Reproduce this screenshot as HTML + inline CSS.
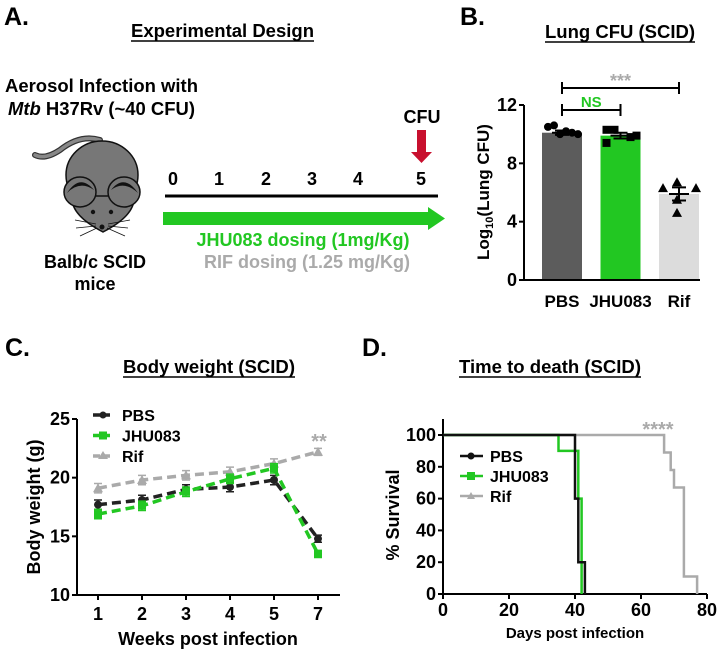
<!DOCTYPE html>
<html><head><meta charset="utf-8"><style>
body{margin:0;background:#fff}
svg{display:block;font-family:"Liberation Sans",Arial,sans-serif;font-weight:bold}
</style></head><body>
<svg id="fig" width="720" height="650" viewBox="0 0 720 650" xmlns="http://www.w3.org/2000/svg">
<g>
<text x="4" y="25" font-size="25">A.</text>
<text x="131" y="37" font-size="18" textLength="183" lengthAdjust="spacingAndGlyphs">Experimental Design</text>
<line x1="131" y1="41" x2="314" y2="41" stroke="#000" stroke-width="1.5"/>
<text x="5" y="92" font-size="18" textLength="193" lengthAdjust="spacingAndGlyphs">Aerosol Infection with</text>
<text x="8" y="115" font-size="18" textLength="187" lengthAdjust="spacingAndGlyphs"><tspan font-style="italic">Mtb</tspan> H37Rv (~40 CFU)</text>
<g>
<path d="M35 155 Q45 160 60 150 Q80 134 100 140" stroke="#333" stroke-width="6" fill="none" stroke-linecap="round"/>
<path d="M35 155 Q45 160 60 150 Q80 134 100 140" stroke="#888" stroke-width="3.5" fill="none" stroke-linecap="round"/>
<ellipse cx="102" cy="175" rx="36" ry="34" fill="#777" stroke="#111" stroke-width="1.5"/>
<path d="M72 196 Q70 215 103 232 Q136 215 134 196 Z" fill="#777" stroke="#111" stroke-width="1.5"/>
<ellipse cx="80" cy="192" rx="16" ry="15" fill="#777" stroke="#111" stroke-width="1.5"/>
<path d="M67 193 Q80 173 94 190 Q80 180 67 193Z" fill="#111"/>
<ellipse cx="124" cy="192" rx="16" ry="15" fill="#777" stroke="#111" stroke-width="1.5"/>
<path d="M111 190 Q124 173 138 193 Q124 180 111 190Z" fill="#111"/>
<circle cx="93" cy="212" r="2.2" fill="#111"/><circle cx="111" cy="212" r="2.2" fill="#111"/>
<circle cx="102" cy="227" r="2.5" fill="#111"/>
<path d="M96 224 L75 220 M96 226 L76 228 M97 228 L80 236 M108 224 L130 220 M108 226 L128 228 M107 228 L125 236" stroke="#111" stroke-width="0.8"/>
</g>
<text x="95" y="268" font-size="18" text-anchor="middle">Balb/c SCID</text>
<text x="95" y="290" font-size="18" text-anchor="middle">mice</text>
<g font-size="18" text-anchor="middle">
<text x="173" y="185">0</text><text x="219" y="185">1</text><text x="266" y="185">2</text><text x="312" y="185">3</text><text x="358" y="185">4</text><text x="421" y="185">5</text>
</g>
<line x1="165" y1="196" x2="438" y2="196" stroke="#000" stroke-width="3"/>
<path d="M163 212 L428 212 L428 207 L445 218.5 L428 230 L428 225 L163 225 Z" fill="#22c722"/>
<text x="303" y="246" font-size="18" fill="#22c722" text-anchor="middle">JHU083 dosing (1mg/Kg)</text>
<text x="307" y="268" font-size="18" fill="#aaa" text-anchor="middle">RIF dosing (1.25 mg/Kg)</text>
<text x="422" y="123" font-size="18" text-anchor="middle">CFU</text>
<path d="M417 130 L426 130 L426 152 L432 152 L421.5 163 L411 152 L417 152 Z" fill="#c8102e"/>
</g>
<g id="pb"></g><g id="pc"></g><g id="pd"></g>
</svg>
<script>
const NS="http://www.w3.org/2000/svg";
function mk(p,tag,a,txt){const e=document.createElementNS(NS,tag);for(const k in a)e.setAttribute(k,a[k]);if(txt!==undefined)e.textContent=txt;p.appendChild(e);return e;}

// ---- Panel B data ----
const bCats=["PBS","JHU083","Rif"];
const bMeans=[10.1,9.9,5.9];
const bSem=[0.15,0.2,0.45];
const bPtsPBS=[10.5,10.6,10.0,10.2,10.1,10.0];
const bPtsJHU=[10.3,10.3,9.4,9.8,9.9];
const bPtsRif=[6.3,6.7,5.5,4.6,6.3];
const bTicks=[0,4,8,12];

// ---- Panel C data ----
const cWeeks=["1","2","3","4","5","7"];
const cPBS=[17.7,18.1,19.0,19.2,19.8,14.8];
const cJHU=[16.9,17.6,18.8,19.9,20.8,13.5];
const cRif=[19.1,19.8,20.2,20.5,21.2,22.2];
const cErr=[0.4,0.4,0.4,0.4,0.4,0.3];
const cTicks=[10,15,20,25];

// ---- Panel D data ----
const dPBSx=[0,40,41,43];
const dPBSy=[100,60,20,0];
const dJHUx=[0,35,41,42,42];
const dJHUy=[100,90,60,20,0];
const dRifx=[0,67,69,70,73,77];
const dRify=[100,89,78,67,11,0];
const dXTicks=[0,20,40,60,80];
const dYTicks=[0,20,40,60,80,100];

function title(g,x,y,w,txt,name){
 const t=mk(g,'text',{x:x,y:y,'font-size':18,textLength:w,lengthAdjust:'spacingAndGlyphs'},txt);
 
 
 mk(g,'line',{x1:x,x2:x+w,y1:y+4,y2:y+4,stroke:'#000','stroke-width':1.5});
}

// ===== Panel B =====
(function(){
const g=document.getElementById('pb');


const y=v=>280-v*(175/12);
const xc=i=>562+i*58.5;
mk(g,'text',{x:460,y:25,'font-size':25},'B.');
title(g,545,38,150,'Lung CFU (SCID)','lung-cfu-title');
const cols=["#5c5c5c","#22c722","#dcdcdc"];
const pts=[bPtsPBS,bPtsJHU,bPtsRif];
const jit=[[-14,-8,-2,4,10,16],[-14,-6,-14,10,16],[-16,-2,-2,-2,17]];
bCats.forEach((c,i)=>{
 const r=mk(g,'rect',{x:xc(i)-20,y:y(bMeans[i]),width:40,height:280-y(bMeans[i]),fill:cols[i]});
 
 
 const lt=mk(g,'text',{x:xc(i),y:307,'font-size':17,'text-anchor':'middle'},c);
 
 
 pts[i].forEach((v,j)=>{
  const px=xc(i)+(jit[i][j]||0);
  let m;
  if(i==0)m=mk(g,'circle',{cx:px,cy:y(v),r:4,fill:'#000'});
  else if(i==1)m=mk(g,'rect',{x:px-4,y:y(v)-4,width:8,height:8,fill:'#000'});
  else m=mk(g,'path',{d:`M${px} ${y(v)-5}L${px+5} ${y(v)+4}L${px-5} ${y(v)+4}Z`,fill:'#000'});
  
  
 });
 const e=mk(g,'path',{d:`M${xc(i)-10} ${y(bMeans[i])}H${xc(i)+10}M${xc(i)} ${y(bMeans[i]-bSem[i])}V${y(bMeans[i]+bSem[i])}M${xc(i)-7} ${y(bMeans[i]-bSem[i])}H${xc(i)+7}M${xc(i)-7} ${y(bMeans[i]+bSem[i])}H${xc(i)+7}`,stroke:'#000','stroke-width':2,fill:'none'});
 
 
});
mk(g,'path',{d:'M524 105V280H700',stroke:'#000','stroke-width':2,fill:'none'});
bTicks.forEach(v=>{
 mk(g,'line',{x1:519,x2:524,y1:y(v),y2:y(v),stroke:'#000','stroke-width':2});
 const tt=mk(g,'text',{x:517,y:y(v)+6,'font-size':18,'text-anchor':'end'},v);
 
 
});
const yt=mk(g,'text',{transform:'translate(489,192) rotate(-90)','font-size':17,'text-anchor':'middle'});


yt.innerHTML='Log<tspan font-size="11" dy="4">10</tspan><tspan dy="-4">(Lung CFU)</tspan>';
mk(g,'path',{d:`M${xc(0)} 82V94M${xc(0)} 88H${xc(2)}M${xc(2)} 82V94`,stroke:'#000','stroke-width':2,fill:'none'});
mk(g,'text',{x:(xc(0)+xc(2))/2,y:87,'font-size':18,fill:'#aaa','text-anchor':'middle'},'***');
mk(g,'path',{d:`M${xc(0)} 104V116M${xc(0)} 110H${xc(1)}M${xc(1)} 104V116`,stroke:'#000','stroke-width':2,fill:'none'});
mk(g,'text',{x:(xc(0)+xc(1))/2,y:107,'font-size':15,fill:'#22c722','text-anchor':'middle'},'NS');
})();

// ===== Panel C =====
(function(){
const g=document.getElementById('pc');


const y=v=>595-(v-10)*(176/15);
const x=i=>98+i*44;
mk(g,'text',{x:5,y:356,'font-size':25},'C.');
title(g,123,373,172,'Body weight (SCID)','body-weight-title');
mk(g,'path',{d:'M77 419V595H340',stroke:'#000','stroke-width':2,fill:'none'});
cTicks.forEach(v=>{
 mk(g,'line',{x1:72,x2:77,y1:y(v),y2:y(v),stroke:'#000','stroke-width':2});
 const tt=mk(g,'text',{x:70,y:y(v)+6,'font-size':18,'text-anchor':'end'},v);
 
 
});
cWeeks.forEach((w,i)=>{
 mk(g,'line',{x1:x(i),x2:x(i),y1:595,y2:600,stroke:'#000','stroke-width':2});
 const tt=mk(g,'text',{x:x(i),y:620,'font-size':18,'text-anchor':'middle'},w);
 
 
});
mk(g,'text',{x:208,y:645,'font-size':18,'text-anchor':'middle'},'Weeks post infection');
mk(g,'text',{transform:'translate(40,507) rotate(-90)','font-size':18,'text-anchor':'middle'},'Body weight (g)');
const series=[[cRif,'#aaa','tri','rif'],[cPBS,'#222','circ','pbs'],[cJHU,'#22c722','sq','jhu083']];
series.forEach(([d,c,m,n])=>{
 const l=mk(g,'polyline',{points:d.map((v,i)=>x(i)+','+y(v)).join(' '),stroke:c,'stroke-width':3.5,'stroke-dasharray':'9 5',fill:'none'});
 
 
 d.forEach((v,i)=>{
  mk(g,'path',{d:`M${x(i)} ${y(v+cErr[i])}V${y(v-cErr[i])}M${x(i)-4} ${y(v+cErr[i])}H${x(i)+4}M${x(i)-4} ${y(v-cErr[i])}H${x(i)+4}`,stroke:c,'stroke-width':1.5});
  let p;
  if(m=='circ')p=mk(g,'circle',{cx:x(i),cy:y(v),r:4,fill:c});
  else if(m=='sq')p=mk(g,'rect',{x:x(i)-4,y:y(v)-4,width:8,height:8,fill:c});
  else p=mk(g,'path',{d:`M${x(i)} ${y(v)-5}L${x(i)+5} ${y(v)+4}L${x(i)-5} ${y(v)+4}Z`,fill:c});
  
  
 });
});
mk(g,'text',{x:319,y:448,'font-size':20,fill:'#aaa','text-anchor':'middle'},'**');
const leg=[['PBS','#222','circ'],['JHU083','#22c722','sq'],['Rif','#aaa','tri']];
leg.forEach(([n,c,m],i)=>{
 const yy=415+i*20.5;
 mk(g,'line',{x1:93,x2:113,y1:yy,y2:yy,stroke:c,'stroke-width':3.5,'stroke-dasharray':'7 3'});
 if(m=='circ')mk(g,'circle',{cx:103,cy:yy,r:3.5,fill:c});
 else if(m=='sq')mk(g,'rect',{x:99,y:yy-4,width:8,height:8,fill:c});
 else mk(g,'path',{d:`M103 ${yy-5}L108 ${yy+3}L98 ${yy+3}Z`,fill:c});
 const tt=mk(g,'text',{x:122,y:yy+6,'font-size':16},n);
 
 
});
})();

// ===== Panel D =====
(function(){
const g=document.getElementById('pd');


const x=v=>443+v*(264/80);
const y=v=>594-v*1.59;
mk(g,'text',{x:362,y:356,'font-size':25},'D.');
title(g,459,373,182,'Time to death (SCID)','time-to-death-title');
mk(g,'path',{d:'M443 419V594H707',stroke:'#000','stroke-width':2,fill:'none'});
dYTicks.forEach(v=>{
 mk(g,'line',{x1:438,x2:443,y1:y(v),y2:y(v),stroke:'#000','stroke-width':2});
 const tt=mk(g,'text',{x:436,y:y(v)+6,'font-size':18,'text-anchor':'end'},v);
 
 
});
dXTicks.forEach(v=>{
 mk(g,'line',{x1:x(v),x2:x(v),y1:594,y2:599,stroke:'#000','stroke-width':2});
 const tt=mk(g,'text',{x:x(v),y:616,'font-size':18,'text-anchor':'middle'},v);
 
 
});
mk(g,'text',{x:575,y:638,'font-size':15,'text-anchor':'middle'},'Days post infection');
mk(g,'text',{transform:'translate(399,515) rotate(-90)','font-size':18,'text-anchor':'middle'},'% Survival');
function step(xs,ys){let d=`M${x(xs[0])} ${y(ys[0])}`;for(let i=1;i<xs.length;i++){d+=`H${x(xs[i])}V${y(ys[i])}`;}return d;}
[[dRifx,dRify,'#aaa','rif'],[dJHUx,dJHUy,'#22c722','jhu083'],[dPBSx,dPBSy,'#111','pbs']].forEach(([xs,ys,c,n])=>{
 const p=mk(g,'path',{d:step(xs,ys),stroke:c,'stroke-width':2.5,fill:'none'});
 
 
});
mk(g,'text',{x:658,y:436,'font-size':20,fill:'#aaa','text-anchor':'middle'},'****');
const leg=[['PBS','#111','circ'],['JHU083','#22c722','sq'],['Rif','#aaa','tri']];
leg.forEach(([n,c,m],i)=>{
 const yy=456+i*20;
 mk(g,'line',{x1:460,x2:483,y1:yy,y2:yy,stroke:c,'stroke-width':2.5});
 if(m=='circ')mk(g,'circle',{cx:471,cy:yy,r:3.5,fill:c});
 else if(m=='sq')mk(g,'rect',{x:467,y:yy-4,width:8,height:8,fill:c});
 else mk(g,'path',{d:`M471 ${yy-4}L475 ${yy+3}L467 ${yy+3}Z`,fill:c});
 const tt=mk(g,'text',{x:490,y:yy+6,'font-size':16},n);
 
 
});
})();
</script>
</body></html>
